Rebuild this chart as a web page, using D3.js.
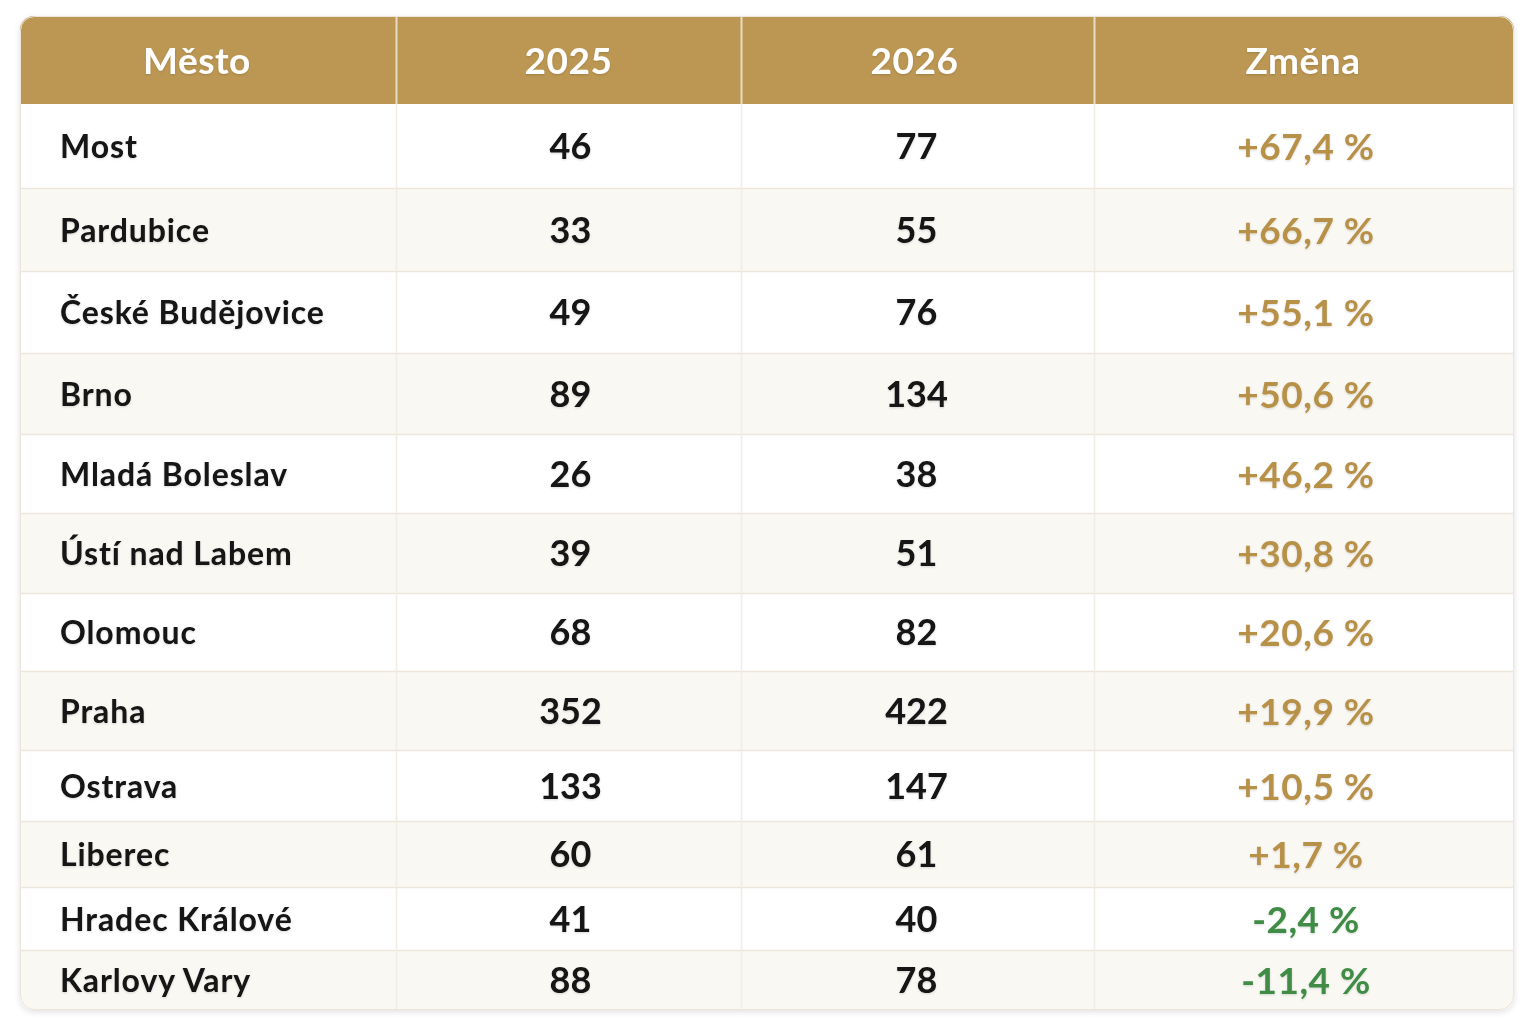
<!DOCTYPE html>
<html>
<head>
<meta charset="utf-8">
<script src="https://cdn.jsdelivr.net/npm/d3@7"></script>
<style>
  body { margin: 0; background: #ffffff; }
  text { font-family: Lato, "Noto Sans", sans-serif; font-weight: 700; }
</style>
</head>
<body>
<script>
// data
const headers = ["Město", "2025", "2026", "Změna"];
const cities = ["Most", "Pardubice", "České Budějovice", "Brno", "Mladá Boleslav", "Ústí nad Labem",
  "Olomouc", "Praha", "Ostrava", "Liberec", "Hradec Králové", "Karlovy Vary"];
const values2025 = [46, 33, 49, 89, 26, 39, 68, 352, 133, 60, 41, 88];
const values2026 = [77, 55, 76, 134, 38, 51, 82, 422, 147, 61, 40, 78];
const changes = ["+67,4 %", "+66,7 %", "+55,1 %", "+50,6 %", "+46,2 %", "+30,8 %",
  "+20,6 %", "+19,9 %", "+10,5 %", "+1,7 %", "-2,4 %", "-11,4 %"];

// layout
const W = 1536, H = 1024;
const cardL = 20, cardR = 1514, cardT = 16, headH = 88;
const colEdges = [20, 396, 741, 1094, 1514];
const rowHeights = [84, 83, 82, 81, 79, 80, 78, 79, 71, 66, 63, 60];
const headShift = [-11, 0, -3, -1];

const svg = d3.select("body").append("svg")
  .attr("width", W).attr("height", H);

const defs = svg.append("defs");
const sh = defs.append("filter").attr("id", "shadow")
  .attr("x", "-5%").attr("y", "-5%").attr("width", "110%").attr("height", "110%");
sh.append("feDropShadow").attr("dx", 0).attr("dy", 2).attr("stdDeviation", 3)
  .attr("flood-color", "#000").attr("flood-opacity", 0.12);
const ts = defs.append("filter").attr("id", "tshadow");
ts.append("feDropShadow").attr("dx", 0).attr("dy", 1).attr("stdDeviation", 1)
  .attr("flood-color", "#000").attr("flood-opacity", 0.15);

// row boundaries from cumulative heights
let acc = cardT + headH;
const rowStarts = rowHeights.map(h => { const s = acc; acc += h; return s; });
const cardB = acc;

const clip = defs.append("clipPath").attr("id", "card");
clip.append("rect").attr("x", cardL).attr("y", cardT)
  .attr("width", cardR - cardL).attr("height", cardB - cardT).attr("rx", 14);

svg.append("rect").attr("x", cardL).attr("y", cardT)
  .attr("width", cardR - cardL).attr("height", cardB - cardT).attr("rx", 14)
  .attr("fill", "#fff").attr("filter", "url(#shadow)");

const card = svg.append("g").attr("clip-path", "url(#card)");

const rows = cities.map((c, i) => ({
  city: c, v25: values2025[i], v26: values2026[i], change: changes[i],
  y: rowStarts[i], h: rowHeights[i], i: i
}));

// header
card.append("rect").attr("x", cardL).attr("y", cardT)
  .attr("width", cardR - cardL).attr("height", headH).attr("fill", "#bc9753");

// body rows
card.selectAll(".row").data(rows).enter().append("rect")
  .attr("class", "row")
  .attr("x", cardL).attr("y", d => d.y)
  .attr("width", cardR - cardL).attr("height", d => d.h)
  .attr("fill", d => d.i % 2 ? "#faf8f3" : "#ffffff");

// horizontal rules
card.selectAll(".hline").data(rows.slice(1)).enter().append("line")
  .attr("x1", cardL).attr("x2", cardR)
  .attr("y1", d => d.y + 0.5).attr("y2", d => d.y + 0.5)
  .attr("stroke", "#ece6dc").attr("stroke-width", 1.5);

// vertical rules
card.selectAll(".vline").data(colEdges.slice(1, -1)).enter().append("line")
  .attr("x1", d => d + 0.5).attr("x2", d => d + 0.5)
  .attr("y1", cardT).attr("y2", cardB)
  .attr("stroke", "#f1ece4").attr("stroke-width", 1.5);
card.selectAll(".vhead").data(colEdges.slice(1, -1)).enter().append("line")
  .attr("x1", d => d + 0.5).attr("x2", d => d + 0.5)
  .attr("y1", cardT).attr("y2", cardT + headH)
  .attr("stroke", "#e9dcc4").attr("stroke-width", 1.5);

// outer border
svg.append("rect").attr("x", cardL + 0.5).attr("y", cardT + 0.5)
  .attr("width", cardR - cardL - 1).attr("height", cardB - cardT - 1).attr("rx", 14)
  .attr("fill", "none").attr("stroke", "#ebe5db");

const colCenter = (k) => (colEdges[k] + colEdges[k + 1]) / 2;

// header text
svg.selectAll(".htext").data(headers).enter().append("text")
  .attr("x", (d, k) => colCenter(k) + headShift[k])
  .attr("y", cardT + headH / 2 + 14)
  .attr("text-anchor", "middle")
  .attr("fill", "#ffffff").attr("font-size", 37)
  .attr("letter-spacing", 0.5)
  .attr("filter", "url(#tshadow)")
  .text(d => d);

const body = svg.append("g").attr("filter", "url(#tshadow)");

body.selectAll(".city").data(rows).enter().append("text")
  .attr("x", 60).attr("y", d => d.y + d.h / 2 + 12)
  .attr("fill", "#121212").attr("font-size", 32)
  .attr("letter-spacing", 0.9)
  .text(d => d.city);

body.selectAll(".v25").data(rows).enter().append("text")
  .attr("x", colCenter(1) + 2).attr("y", d => d.y + d.h / 2 + 13)
  .attr("text-anchor", "middle")
  .attr("fill", "#121212").attr("font-size", 36)
  .text(d => d.v25);

body.selectAll(".v26").data(rows).enter().append("text")
  .attr("x", colCenter(2) - 1).attr("y", d => d.y + d.h / 2 + 13)
  .attr("text-anchor", "middle")
  .attr("fill", "#121212").attr("font-size", 36)
  .text(d => d.v26);

body.selectAll(".chg").data(rows).enter().append("text")
  .attr("x", colCenter(3) + 2).attr("y", d => d.y + d.h / 2 + 14)
  .attr("text-anchor", "middle")
  .attr("fill", d => d.change.startsWith("-") ? "#3f8c46" : "#b8914a")
  .attr("font-size", 37)
  .attr("letter-spacing", 0.5)
  .text(d => d.change);
</script>
</body>
</html>
